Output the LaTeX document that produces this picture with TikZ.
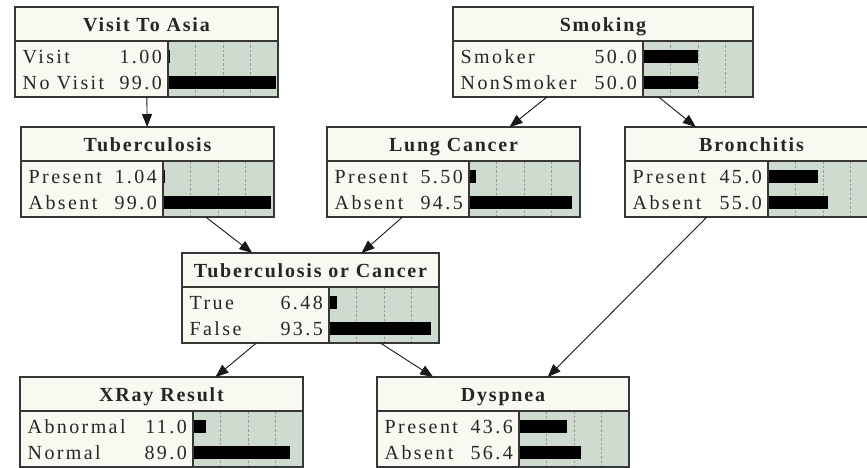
\documentclass[tikz,border=0pt]{standalone}
\usepackage{fontspec}
\setmainfont{Liberation Serif}[LetterSpace=12, BoldFeatures={LetterSpace=9}]
\usetikzlibrary{arrows.meta,calc}

\definecolor{cream}{RGB}{250,249,241}
\definecolor{panel}{RGB}{208,219,208}
\definecolor{rim}{RGB}{55,55,55}
\definecolor{gridc}{RGB}{150,150,150}

\tikzset{
  frame/.style={draw=rim, line width=1.2pt, rectangle, inner sep=0pt, outer sep=0pt},
  rule/.style={draw=rim, line width=1.2pt},
  gridline/.style={draw=gridc, line width=0.6pt, dash pattern=on 2.5pt off 2pt},
  titletext/.style={inner sep=0pt, font=\fontsize{20}{22}\selectfont\bfseries, text=black!85},
  rowtext/.style={inner sep=0pt, font=\fontsize{20}{22}\selectfont, text=black!85},
  bar/.style={fill=black},
  edge/.style={draw=black!90, line width=0.9pt, -{Triangle[length=13pt,width=10pt]}}
}

% belief box: name, left, top, divider x, right, title
\newcommand\netnode[6]{%
  \fill[cream] (#2,#3) rectangle (#5,#3+90);
  \fill[panel] (#4,#3+34) rectangle (#5,#3+90);
  \foreach \g in {1,2,3}
    \draw[gridline] ({#4+27.5*\g},#3+34) -- ({#4+27.5*\g},#3+90);
  \draw[rule] (#2,#3+34) -- (#5,#3+34) (#4,#3+34) -- (#4,#3+90);
  \node[frame, minimum width={(#5-#2)*1pt}, minimum height=90pt, anchor=north west] (#1) at (#2,#3) {};
  \coordinate (#1-div) at (#4,#3);
  \node[titletext, anchor=base] (#1-t) at ({(#2+#5)/2},#3+24.5) {#6};
}

% state row: node name, row index (0/1), label, value, percent
\newcommand\netrow[5]{%
  \node[rowtext, anchor=base west] (#1-l#2) at ($(#1.north west)+(7.5,56.5+26*#2)$) {#3};
  \node[rowtext, anchor=base east] (#1-v#2) at ($(#1-div)+(-6,56.5+26*#2)$) {#4};
  \fill[bar] ($(#1-div)+(1,43+26*#2)$) rectangle ($(#1-div)+({1+1.08*#5},56+26*#2)$);
}

\begin{document}
\begin{tikzpicture}[x=1pt,y=-1pt]
  \useasboundingbox (0,0) rectangle (867,468);
  \fill[white] (0,0) rectangle (867,468);
  \clip (0,0) rectangle (867,468);

  \netnode{asia}{15}{7}{168}{278}{Visit To Asia}
  \netrow{asia}{0}{Visit}{1.00}{1.00}
  \netrow{asia}{1}{No Visit}{99.0}{99.0}

  \netnode{smoke}{453}{7}{643}{753}{Smoking}
  \netrow{smoke}{0}{Smoker}{50.0}{50.0}
  \netrow{smoke}{1}{NonSmoker}{50.0}{50.0}

  \netnode{tub}{21}{127}{163}{274}{Tuberculosis}
  \netrow{tub}{0}{Present}{1.04}{1.04}
  \netrow{tub}{1}{Absent}{99.0}{99.0}

  \netnode{lung}{327}{127}{469}{580}{Lung Cancer}
  \netrow{lung}{0}{Present}{5.50}{5.50}
  \netrow{lung}{1}{Absent}{94.5}{94.5}

  \netnode{bronc}{625}{127}{768}{878}{Bronchitis}
  \netrow{bronc}{0}{Present}{45.0}{45.0}
  \netrow{bronc}{1}{Absent}{55.0}{55.0}

  \netnode{either}{182}{253}{329}{439}{Tuberculosis or Cancer}
  \netrow{either}{0}{True}{6.48}{6.48}
  \netrow{either}{1}{False}{93.5}{93.5}

  \netnode{xray}{20}{377}{193}{303}{XRay Result}
  \netrow{xray}{0}{Abnormal}{11.0}{11.0}
  \netrow{xray}{1}{Normal}{89.0}{89.0}

  \netnode{dysp}{377}{377}{519}{629}{Dyspnea}
  \netrow{dysp}{0}{Present}{43.6}{43.6}
  \netrow{dysp}{1}{Absent}{56.4}{56.4}

  % dependencies
  \draw[edge] (asia) -- (tub);
  \draw[edge] (smoke) -- (lung);
  \draw[edge] (smoke) -- (bronc);
  \draw[edge] (tub) -- (either);
  \draw[edge] (lung) -- (either);
  \draw[edge] (either) -- (xray);
  \draw[edge] (either) -- (dysp);
  \draw[edge] (bronc) -- (dysp);
\end{tikzpicture}
\end{document}
